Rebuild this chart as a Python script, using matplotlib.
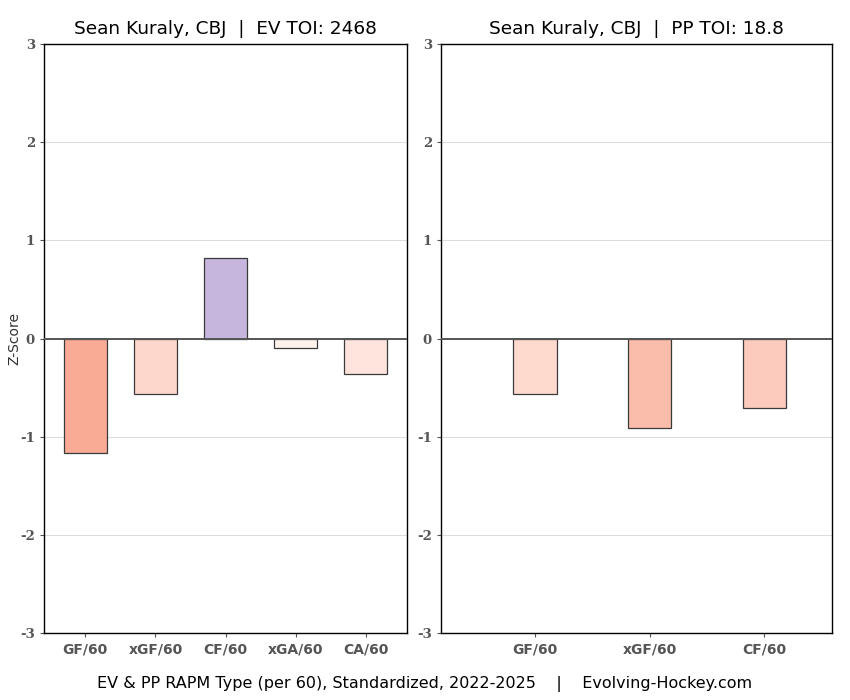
import matplotlib.pyplot as plt
import numpy as np

player = 'Sean Kuraly, CBJ'
ev_toi = '2468'
pp_toi = '18.8'

ev_cats = ['GF/60', 'xGF/60', 'CF/60', 'xGA/60', 'CA/60']
ev_vals = [-1.17, -0.565, 0.82, -0.10, -0.36]
ev_colors = ['#F9AB96', '#FDD7CB', '#C6B6DE', '#FEF2EE', '#FEE4DC']

pp_cats = ['GF/60', 'xGF/60', 'CF/60']
pp_vals = [-0.565, -0.91, -0.71]
pp_colors = ['#FDD9CE', '#FBBDAB', '#FCCBBD']

y_ticks = [-3, -2, -1, 0, 1, 2, 3]

fig = plt.figure(figsize=(8.5, 7), dpi=100)
ax1 = fig.add_axes([44/850, 1 - 633/700, 363/850, 589/700])
ax2 = fig.add_axes([441/850, 1 - 633/700, 391/850, 589/700])

def panel(ax, cats, vals, colors, width, xlim, title):
    x = np.arange(len(cats))
    ax.bar(x, vals, width=width, color=colors, edgecolor='#3a3a3a', linewidth=0.9, zorder=3)
    ax.axhline(0, color='#555555', linewidth=1.4, zorder=4)
    ax.set_ylim(-3, 3)
    ax.set_xlim(*xlim)
    ax.set_yticks(y_ticks)
    ax.set_yticklabels([str(t) for t in y_ticks], family='DejaVu Serif', fontweight='bold',
                       fontsize=9.5, color='#555555')
    ax.set_xticks(x)
    ax.set_xticklabels(cats, fontweight='bold', fontsize=10, color='#555555')
    ax.grid(axis='y', color='#dddddd', linewidth=0.8, zorder=0)
    ax.tick_params(length=3, color='#555555')
    for s in ax.spines.values():
        s.set_color('black')
        s.set_linewidth(1.0)
    ax.set_title(title, fontsize=13.3, pad=7)

panel(ax1, ev_cats, ev_vals, ev_colors, 0.61, (-0.59, 4.59),
      f'{player}  |  EV TOI: {ev_toi}')
panel(ax2, pp_cats, pp_vals, pp_colors, 0.38, (-0.82, 2.59),
      f'{player}  |  PP TOI: {pp_toi}')
ax1.set_ylabel('Z-Score', fontsize=10, color='#333333', labelpad=-1)

fig.text(0.5, 1 - 684/700, 'EV & PP RAPM Type (per 60), Standardized, 2022-2025    |    Evolving-Hockey.com',
         ha='center', va='center', fontsize=11.5)

fig.savefig('out.png', dpi=100)
